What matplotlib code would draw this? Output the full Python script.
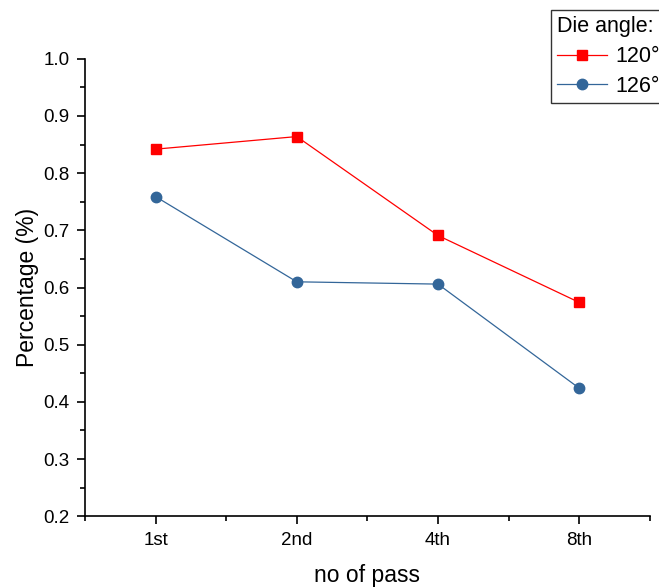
import numpy as np
import matplotlib
matplotlib.use("Agg")
import matplotlib.pyplot as plt
from matplotlib.ticker import MultipleLocator

plt.rcParams['font.family'] = ['Liberation Sans', 'DejaVu Sans']

passes = ['1st', '2nd', '4th', '8th']
angle_120 = [0.842, 0.864, 0.691, 0.574]
angle_126 = [0.759, 0.610, 0.606, 0.424]
legend_labels = ['120°', '126°']

fig = plt.figure(figsize=(6.59, 5.88), dpi=100)
ax = fig.add_axes([0.129, 0.122, 0.857, 0.778])

x = np.arange(len(passes))
ax.plot(x, angle_120, color='#ff0000', lw=0.9, marker='s', ms=7, label=legend_labels[0])
ax.plot(x, angle_126, color='#336699', lw=0.9, marker='o', ms=7.5, label=legend_labels[1])

ax.set_xlim(-0.5, 3.5)
ax.set_ylim(0.2, 1.0)
ax.set_xticks(x)
ax.set_xticklabels(passes)
ax.xaxis.set_minor_locator(MultipleLocator(0.5))
ax.yaxis.set_major_locator(MultipleLocator(0.1))
ax.yaxis.set_minor_locator(MultipleLocator(0.05))
ax.spines['top'].set_visible(False)
ax.spines['right'].set_visible(False)
for s in ['left', 'bottom']:
    ax.spines[s].set_linewidth(1.2)
ax.tick_params(which='major', direction='out', length=6, width=1.2, labelsize=13.5, pad=5)
ax.tick_params(which='minor', direction='out', length=3.5, width=1.2)

ax.set_xlabel('no of pass', fontsize=16.5, labelpad=11)
ax.set_ylabel('Percentage (%)', fontsize=16.5, labelpad=3)

leg = ax.legend(title='Die angle:', loc='upper left', bbox_to_anchor=(551 / 659, 1 - 10 / 588),
                bbox_transform=fig.transFigure, fontsize=15.5, title_fontsize=15.5,
                frameon=True, fancybox=False, edgecolor='black', borderaxespad=0,
                handlelength=2.3, borderpad=0.3, labelspacing=0.4, handletextpad=0.4)
leg._legend_box.align = 'left'
leg.get_frame().set_linewidth(1.0)

fig.savefig('out.png', dpi=100)
